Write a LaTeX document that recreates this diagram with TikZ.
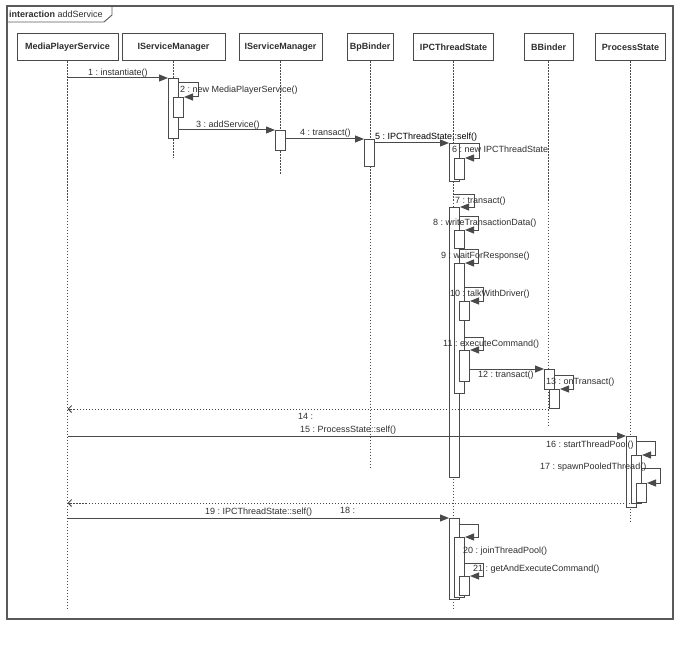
\documentclass[tikz,border=0pt]{standalone}
\usepackage{fontspec}
\setmainfont{Liberation Sans}
\usetikzlibrary{arrows.meta}
\definecolor{ln}{HTML}{4A4A4A}
\definecolor{fr}{HTML}{5A5A5A}
\definecolor{tx}{HTML}{2E2E2E}
\frenchspacing
\newcommand{\loopmsg}[4]{\draw[msg] (#1.east |- 0,#2) -- (#3,#2) -- (#4.north east -| #3,0) -- (#4.north east);}
\begin{document}
\begin{tikzpicture}[x=1pt,y=-1pt,
  font=\fontsize{9}{10}\selectfont,
  hdr/.style={draw=ln, line width=1pt, minimum height=27pt, inner sep=0pt, text=tx, font=\fontsize{9}{10}\selectfont\bfseries, fill=white},
  life/.style={draw=ln, line width=1pt, dash pattern=on 1.3pt off 1.7pt},
  bar/.style={draw=ln, fill=white, line width=1pt, minimum width=10pt, inner sep=0pt, anchor=north west},
  msg/.style={draw=ln, line width=1pt, -{Triangle[length=9pt,width=7pt]}},
  ret/.style={draw=ln, line width=1pt, dash pattern=on 1.5pt off 1.5pt, -{Straight Barb[length=3.5pt,width=7pt]}},
  lbl/.style={inner sep=0pt, anchor=west, text=tx},
]
\useasboundingbox (0,0) rectangle (700,647);
% frame
\draw[fr, line width=1.1pt] (7,6) rectangle (673,619);
\draw[fr, line width=0.9pt] (7,22) -- (104,22) -- (112,15) -- (112,6);
\node[lbl] (title) at (9,14) {\textbf{interaction} addService};

% headers
\node[hdr, minimum width=101pt] (mps) at (67.5,47.5) {MediaPlayerService};
\node[hdr, minimum width=103pt] (ism1) at (173.5,47.5) {IServiceManager};
\node[hdr, minimum width=83pt] (ism2) at (280.5,47.5) {IServiceManager};
\node[hdr, minimum width=46pt] (bpb) at (370,47.5) {BpBinder};
\node[hdr, minimum width=80pt] (ipc) at (453.5,47.5) {IPCThreadState};
\node[hdr, minimum width=49pt] (bb) at (548.5,47.5) {BBinder};
\node[hdr, minimum width=70pt] (ps) at (630.5,47.5) {ProcessState};

% lifelines
\draw[life] (mps.south) -- (mps.south |- 0,608);
\draw[life] (ism1.south) -- (ism1.south |- 0,158);
\draw[life] (ism2.south) -- (ism2.south |- 0,175);
\draw[life] (bpb.south) -- (bpb.south |- 0,467);
\draw[life] (ipc.south) -- (ipc.south |- 0,608);
\draw[life] (bb.south) -- (bb.south |- 0,427);
\draw[life] (ps.south) -- (ps.south |- 0,521);

% activation bars
\node[bar, minimum height=60pt] (b1) at (168,78) {};
\node[bar, minimum height=20pt] (b2) at (173,97) {};
\node[bar, minimum height=20pt] (b3) at (275,130) {};
\node[bar, minimum height=27pt] (b4) at (364,139) {};
\node[bar, minimum height=38pt] (b5) at (449,143) {};
\node[bar, minimum height=21pt] (b6) at (454,158) {};
\node[bar, minimum height=270pt] (b7) at (449,207) {};
\node[bar, minimum height=18pt] (b8) at (454,230) {};
\node[bar, minimum height=130pt] (b9) at (454,263) {};
\node[bar, minimum height=19pt] (b10) at (459,301) {};
\node[bar, minimum height=31pt] (b11) at (459,350) {};
\node[bar, minimum height=20pt] (b12) at (544,369) {};
\node[bar, minimum height=19pt] (b13) at (549,389) {};
\node[bar, minimum height=71pt] (b15) at (626,436) {};
\node[bar, minimum height=48pt] (b16) at (631,455) {};
\node[bar, minimum height=19pt] (b17) at (636,483) {};
\node[bar, minimum height=81pt] (b19) at (449,518) {};
\node[bar, minimum height=60pt] (b20) at (454,537) {};
\node[bar, minimum height=19pt] (b21) at (459,576) {};

% messages
\draw[msg] (mps.south |- b1.north) -- (b1.north west);
\loopmsg{b1}{83}{198}{b2}
\draw[msg] (b1.east |- b3.north) -- (b3.north west);
\draw[msg] (b3.east |- b4.north) -- (b4.north west);
\draw[msg] (b4.east |- b5.north) -- (b5.north west);
\loopmsg{b5}{144}{479}{b6}
\draw[msg] (ipc.south |- 0,194) -- (474,194) -- (b7.north east -| 474,0) -- (b7.north east);
\loopmsg{b7}{216}{478}{b8}
\loopmsg{b7}{249}{478}{b9}
\loopmsg{b9}{287}{483}{b10}
\loopmsg{b9}{337}{483}{b11}
\draw[msg] (b11.east |- b12.north) -- (b12.north west);
\loopmsg{b12}{375}{573}{b13}
\draw[ret] (b13.south west) -- (mps.south |- b13.south);
\draw[msg] (mps.south |- b15.north) -- (b15.north west);
\loopmsg{b15}{441}{655}{b16}
\loopmsg{b16}{468}{660}{b17}
\draw[ret] (b17.south west) -- (mps.south |- b17.south);
\draw[msg] (mps.south |- b19.north) -- (b19.north west);
\loopmsg{b19}{524}{478}{b20}
\loopmsg{b20}{563}{483}{b21}

% labels
\node[lbl] (l1) at (88,73) {1 : instantiate()};
\node[lbl] (l2) at (180,90) {2 : new MediaPlayerService()};
\node[lbl] (l3) at (196,125) {3 : addService()};
\node[lbl] (l4) at (300,133) {4 : transact()};
\node[lbl, text=black] (l5) at (375,137) {5 : IPCThreadState::self()};
\node[lbl] (l6) at (452,149) {6 : new IPCThreadState};
\node[lbl] (l7) at (455,201) {7 : transact()};
\node[lbl] (l8) at (433,223) {8 : writeTransactionData()};
\node[lbl] (l9) at (441,256) {9 : waitForResponse()};
\node[lbl] (l10) at (450,294) {10 : talkWithDriver()};
\node[lbl] (l11) at (443,344) {11 : executeCommand()};
\node[lbl] (l12) at (478,375) {12 : transact()};
\node[lbl] (l13) at (546,382) {13 : onTransact()};
\node[lbl] (l14) at (298,416) {14 :};
\node[lbl] (l15) at (300,430) {15 : ProcessState::self()};
\node[lbl] (l16) at (546,445) {16 : startThreadPool()};
\node[lbl] (l17) at (540,467) {17 : spawnPooledThread()};
\node[lbl] (l18) at (340,510) {18 :};
\node[lbl] (l19) at (205,512) {19 : IPCThreadState::self()};
\node[lbl] (l20) at (463,551) {20 : joinThreadPool()};
\node[lbl] (l21) at (473,569) {21 : getAndExecuteCommand()};
\end{tikzpicture}
\end{document}
